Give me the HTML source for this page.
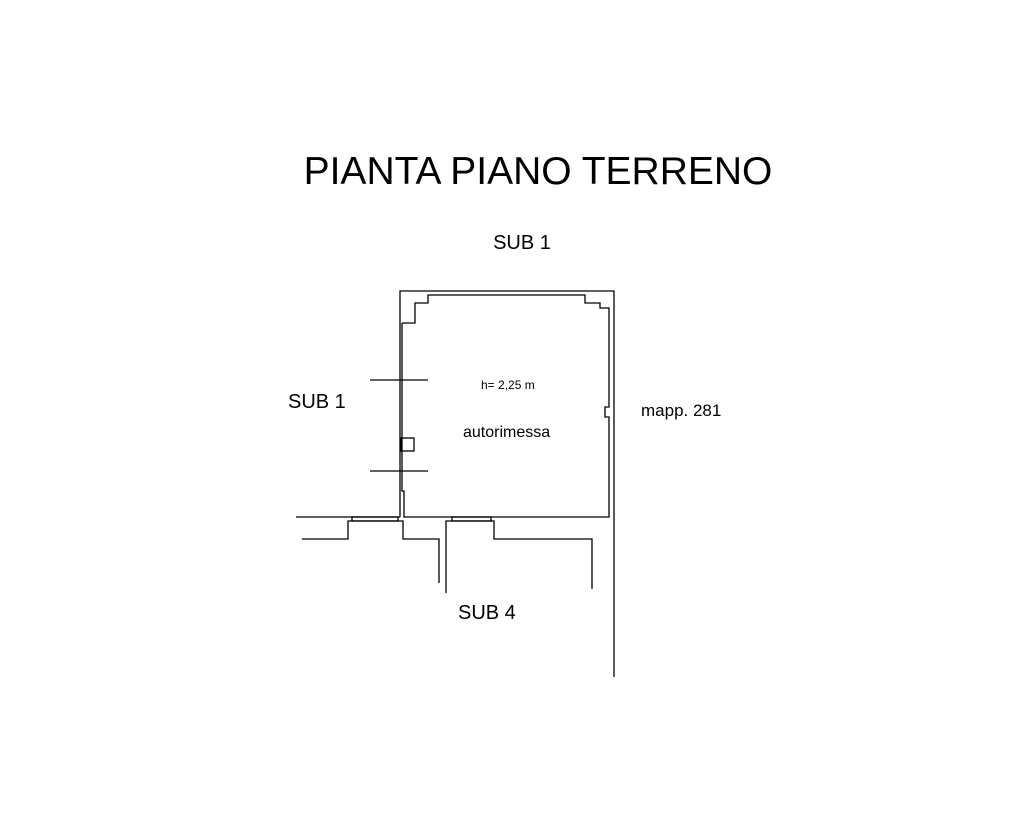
<!DOCTYPE html>
<html><head><style>
body{margin:0;background:#fff;width:1033px;height:839px;overflow:hidden}
svg{display:block}
text{font-family:"Liberation Sans",Arial,sans-serif;fill:#000}
</style></head><body>
<svg width="1033" height="839" viewBox="0 0 1033 839" fill="none" stroke="#000" stroke-width="1.3">
<text x="538" y="184" font-size="39" text-anchor="middle" stroke="none">PIANTA PIANO TERRENO</text>
<text x="522" y="249" font-size="20" text-anchor="middle" stroke="none">SUB 1</text>
<text x="288" y="408" font-size="20" stroke="none">SUB 1</text>
<text x="641" y="416" font-size="17" stroke="none">mapp. 281</text>
<text x="481" y="389" font-size="12" stroke="none">h= 2,25 m</text>
<text x="463" y="437" font-size="16" stroke="none">autorimessa</text>
<text x="458" y="619" font-size="20" stroke="none">SUB 4</text>
<polyline points="400,324 400,291 614,291 614,677"/>
<polyline points="402,323 415,323 415,303 428,303 428,295 585,295 585,303 600,303 600,308 609,308 609,407 605,407 605,417 609,417 609,517 404,517 404,491 402,491 402,323"/>
<line x1="400" y1="324" x2="400" y2="517"/>
<rect x="401" y="438" width="13" height="13"/>
<line x1="370" y1="380" x2="428" y2="380"/>
<line x1="370" y1="471" x2="428" y2="471"/>
<line x1="296" y1="517" x2="400" y2="517"/>
<rect x="352" y="517" width="46" height="4"/>
<rect x="452" y="517" width="39" height="4"/>
<polyline points="302,539 348,539 348,521 403,521 403,539 439,539 439,583"/>
<polyline points="446,593 446,521 494,521 494,539 592,539 592,589"/>
</svg>
</body></html>
